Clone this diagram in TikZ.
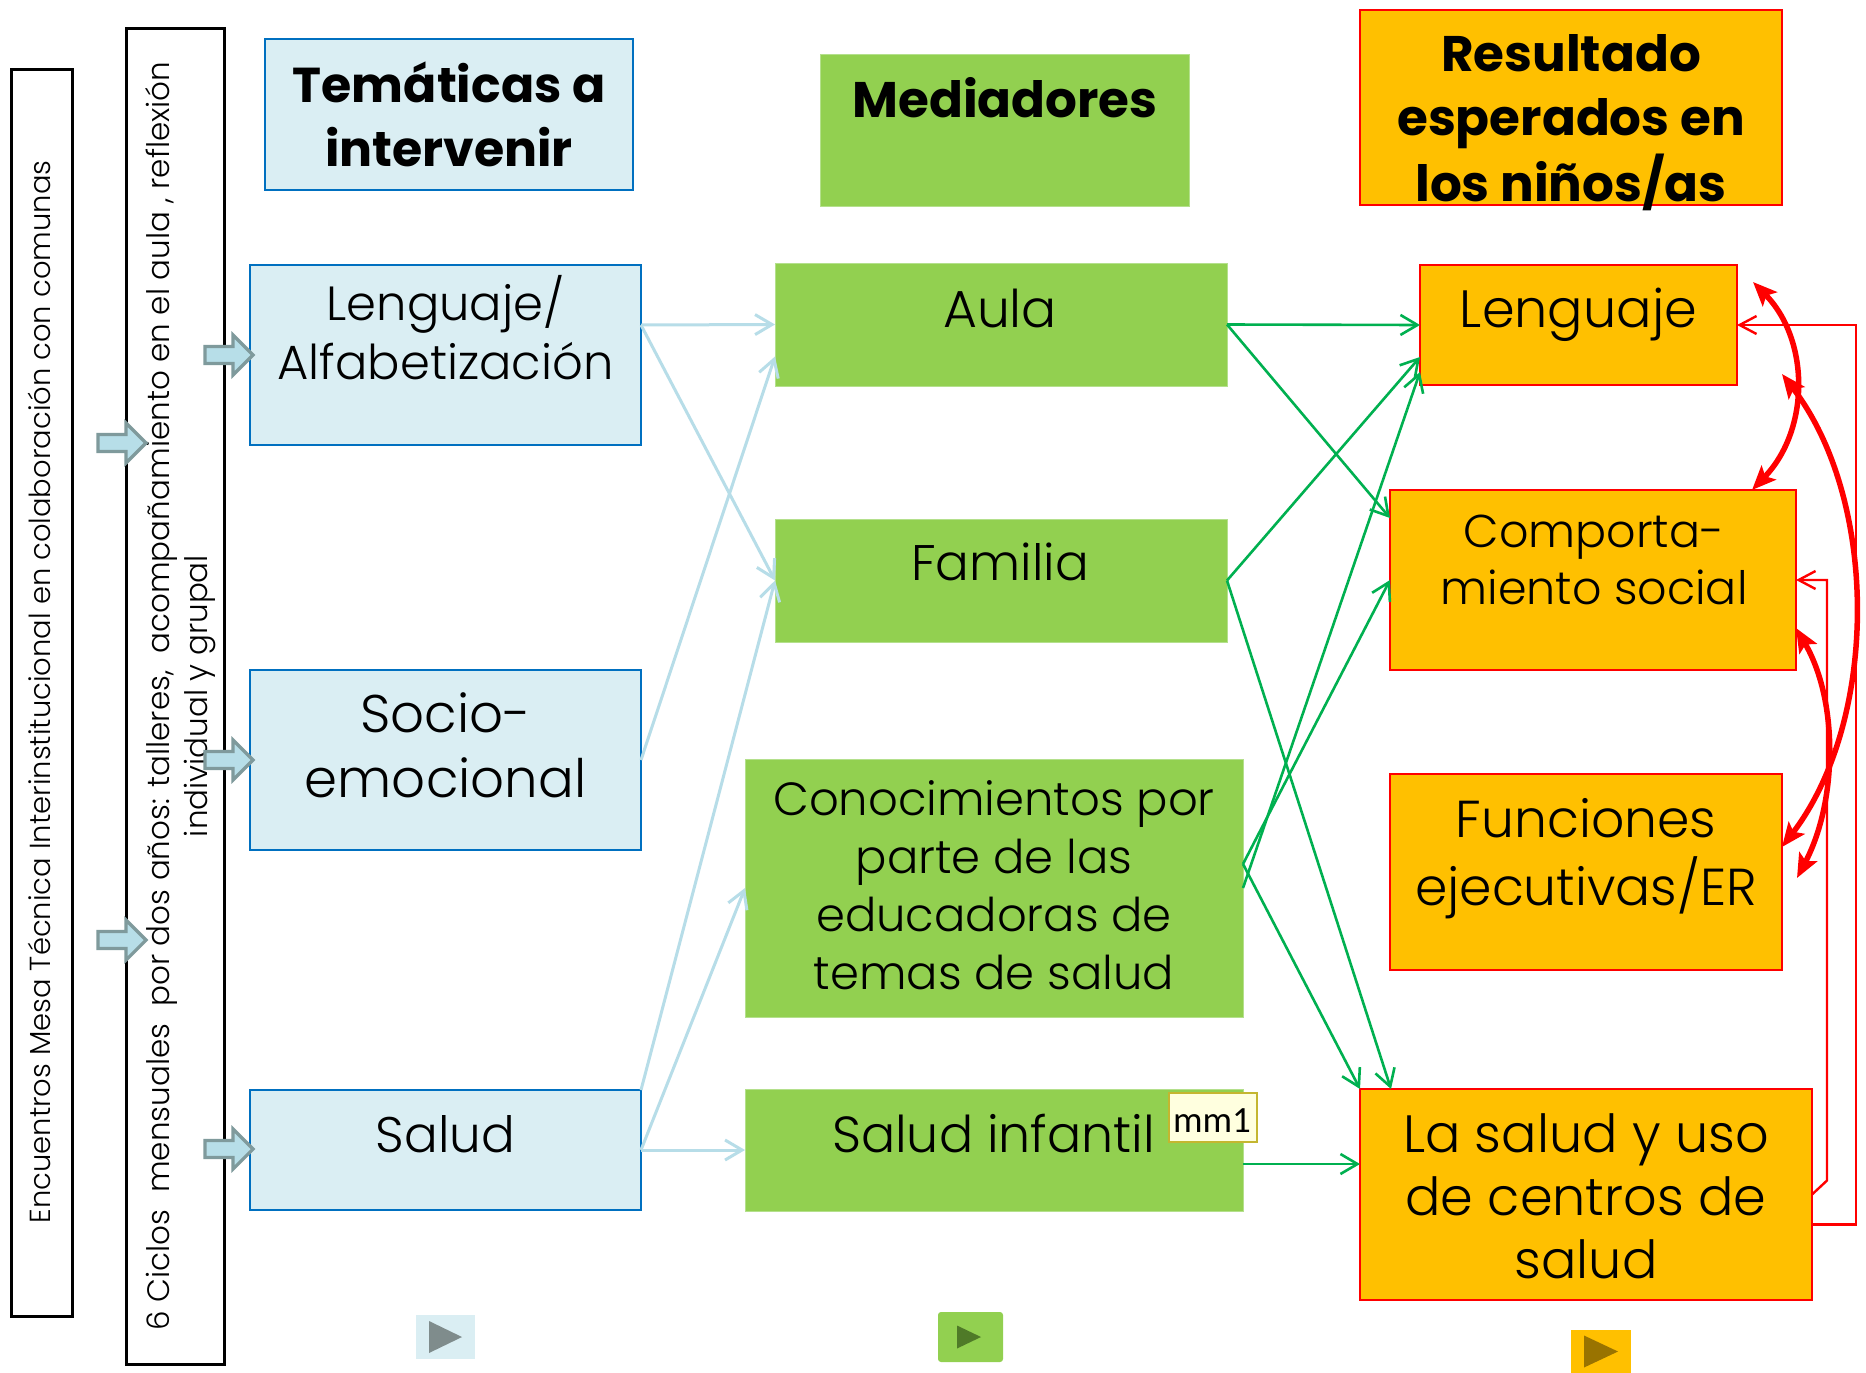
\documentclass[tikz,border=0pt]{standalone}
\usepackage{fontspec}
\setmainfont{Poppins}[UprightFont={* Light}, BoldFont={* Bold}]
\newfontfamily\calib{Carlito}
\usetikzlibrary{arrows.meta,calc}
\definecolor{paleblue}{HTML}{DAEEF3}
\definecolor{bordblue}{HTML}{0070C0}
\definecolor{linkblue}{HTML}{B7DDE8}
\definecolor{boxgreen}{HTML}{92D050}
\definecolor{gborder}{HTML}{B4E08C}
\definecolor{linkgreen}{HTML}{00B050}
\definecolor{orangeY}{HTML}{FFC000}
\definecolor{arrfill}{HTML}{B7DEE8}
\definecolor{arrgray}{HTML}{7F9A9C}
\definecolor{mmfill}{HTML}{FFFFDF}
\definecolor{mmbord}{HTML}{C4B630}
\definecolor{tri1}{HTML}{7F8C8C}
\definecolor{tri2}{HTML}{4F7A28}
\definecolor{tri3}{HTML}{997300}
\newcommand{\mlines}[1]{\begin{tabular}[t]{@{}c@{}}#1\end{tabular}}
\begin{document}
\begin{tikzpicture}[x=1pt,y=-1pt,
  every node/.style={inner sep=0pt, outer sep=0pt},
  tbox/.style={draw=bordblue, line width=2.5pt, fill=paleblue},
  gbox/.style={draw=gborder, line width=1pt, fill=boxgreen},
  obox/.style={draw=red, line width=2.5pt, fill=orangeY},
  frame/.style={draw=black, line width=3pt},
  txt/.style 2 args={anchor=base, text=black, font=\fontsize{#1}{#2}\selectfont},
  ttl/.style 2 args={anchor=base, text=black, font=\bfseries\fontsize{#1}{#2}\selectfont},
  lb/.style={draw=linkblue, line width=3pt, -{Straight Barb[length=17pt,width=20pt]}},
  lg/.style={draw=linkgreen, line width=2.6pt, -{Straight Barb[length=17pt,width=20pt]}},
  lr/.style={draw=red, line width=2.4pt, -{Straight Barb[length=17pt,width=18pt]}},
  bigred/.style={draw=red, line width=5.5pt, {Stealth[length=24pt,width=20pt,inset=5pt]}-{Stealth[length=24pt,width=20pt,inset=5pt]}},
  harrow/.style={draw=arrgray, fill=arrfill, line width=3.2pt, line join=miter},
  harr/.pic={\path[harrow] (-48,-8.5) -- (-20,-8.5) -- (-20,-20) -- (0,0) -- (-20,20) -- (-20,8.5) -- (-48,8.5) -- cycle;}
]
\path[fill=white] (0,0) rectangle (1866,1373);
\useasboundingbox (0,0) rectangle (1866,1373);

% left frames
\node[frame, minimum width=61pt, minimum height=1247pt] (mesa) at (41.5,692.5) {};
\node[frame, minimum width=98pt, minimum height=1336pt] (ciclos) at (175,696) {};
\node[rotate=90, anchor=base, font=\fontsize{29}{38}\selectfont] (mesa-t) at (50,692)
  {Encuentros Mesa Técnica Interinstitucional en colaboración con comunas};
\node[rotate=90, anchor=base, font=\fontsize{31}{38}\selectfont] (ciclos-t) at (169,696)
  {\mlines{6 Ciclos\ \ mensuales\ \ por dos años: talleres,\ \ acompañamiento en el aula , reflexión\\individual y grupal}};

% column 1
\node[tbox, minimum width=368pt, minimum height=151pt] (tem) at (449,114.5) {};
\node[ttl={49}{64}] (tem-t) at (449,102) {\mlines{Temáticas a\\intervenir}};
\node[tbox, minimum width=391pt, minimum height=180pt] (lengalf) at (445.5,355) {};
\node[txt={48}{59}] (lengalf-t) at (445.5,320) {\mlines{Lenguaje/\\Alfabetización}};
\node[tbox, minimum width=391pt, minimum height=180pt] (socio) at (445.5,760) {};
\node[txt={53}{65}] (socio-t) at (445.5,732) {\mlines{Socio-\\emocional}};
\node[tbox, minimum width=391pt, minimum height=120pt] (salud) at (445.5,1150) {};
\node[txt={50}{60}] (salud-t) at (445.5,1152) {Salud};

% column 2
\node[gbox, minimum width=369pt, minimum height=152pt] (med) at (1004.5,130) {};
\node[ttl={50}{64}] (med-t) at (1005,117) {Mediadores};
\node[gbox, minimum width=452pt, minimum height=123pt] (aula) at (1001,324.5) {};
\node[txt={52}{60}] (aula-t) at (1000,327) {Aula};
\node[gbox, minimum width=452pt, minimum height=123pt] (familia) at (1001,580.5) {};
\node[txt={50}{60}] (familia-t) at (1000,580) {Familia};
\node[gbox, minimum width=498pt, minimum height=258pt] (conoc) at (994,888) {};
\node[txt={46.5}{58}] (conoc-t) at (994,815) {\mlines{Conocimientos por\\parte de las\\educadoras de\\temas de salud}};
\node[gbox, minimum width=498pt, minimum height=122pt] (saludinf) at (994,1150) {};
\node[txt={50.7}{60}] (saludinf-t) at (993.5,1152) {Salud infantil};
\node[draw=mmbord, line width=1.5pt, fill=mmfill, minimum width=88pt, minimum height=49pt] (mm1) at (1213,1117.5) {};
\node[anchor=base, font=\calib\fontsize{37}{40}\selectfont] (mm1-t) at (1212,1132) {mm1};

% column 3
\node[obox, minimum width=422pt, minimum height=195pt] (res) at (1571,107.5) {};
\node[ttl={50}{64}] (res-t) at (1571,71) {\mlines{Resultado\\esperados en\\los niños/as}};
\node[obox, minimum width=317pt, minimum height=120pt] (lenguaje) at (1578.5,325) {};
\node[txt={52.5}{60}] (lenguaje-t) at (1578.5,327) {Lenguaje};
\node[obox, minimum width=406pt, minimum height=180pt] (comport) at (1593,580) {};
\node[txt={46}{57}] (comport-t) at (1594,547) {\mlines{Comporta-\\miento social}};
\node[obox, minimum width=392pt, minimum height=196pt] (funciones) at (1586,872) {};
\node[txt={52}{64}] (funciones-t) at (1586,837) {\mlines{Funciones\\ejecutivas/ER}};
\node[obox, minimum width=452pt, minimum height=211pt] (lasalud) at (1586,1194.5) {};
\node[txt={52.5}{63}] (lasalud-t) at (1586,1152) {\mlines{La salud y uso\\de centros de\\salud}};

% hollow arrows
\pic at (253,355) {harr};
\pic at (146,443) {harr};
\pic at (253,760) {harr};
\pic at (146,940) {harr};
\pic at (253,1149) {harr};

% light blue connectors
\draw[lb] ([yshift=30pt]lengalf.east) -- (aula.west);
\draw[lb] ([yshift=30pt]lengalf.east) -- (familia.west);
\draw[lb] (socio.east) -- ([yshift=-32pt]aula.west);
\draw[lb] (salud.north east) -- (familia.west);
\draw[lb] (salud.east) -- (conoc.west);
\draw[lb] (salud.east) -- (saludinf.west);

% green connectors
\coordinate (si-out) at ([yshift=-14pt]saludinf.east);
\coordinate (co-up) at ([yshift=24pt]conoc.east);
\draw[lg] (aula.east) -- (lenguaje.west);
\draw[lg] (aula.east) -- ([yshift=62pt]comport.west);
\draw[lg] (familia.east) -- ([yshift=-32pt]lenguaje.west);
\draw[lg] (familia.east) -- ([xshift=31pt]lasalud.north west);
\draw[lg] (conoc.east) -- ([yshift=-47pt]lenguaje.west);
\draw[lg] (co-up) -- (comport.west);
\draw[lg] (co-up) -- (lasalud.north west);
\draw[lg] (si-out) -- (si-out -| lasalud.west);

% red thin connectors
\coordinate (ls-a) at ([yshift=-30pt]lasalud.east);
\draw[lr] (ls-a) -- ++(44,0) |- (lenguaje.east);
\draw[lr] (lasalud.east) -- ++(15,-14) |- (comport.east);

% red thick double arrows
\draw[bigred] ([shift={(16pt,-17pt)}]lenguaje.north east) .. controls (1810,340) and (1810,430) .. ([xshift=-44pt]comport.north east);
\draw[bigred] ([shift={(45pt,11pt)}]lenguaje.south east) .. controls (1879,500) and (1879,720) .. ([yshift=25pt]funciones.east);
\draw[bigred] ([yshift=42pt]comport.south east) .. controls (1838,700) and (1838,800) .. ([shift={(15pt,-6pt)}]funciones.east);

% play buttons
\node[fill=paleblue, minimum width=59pt, minimum height=44pt] (play1) at (445.5,1337) {};
\fill[tri1] ([shift={(-16.5pt,16pt)}]play1.center) -- ([shift={(-16.5pt,-16pt)}]play1.center) -- ([shift={(16.5pt,0pt)}]play1.center) -- cycle;
\node[fill=boxgreen, rounded corners=3pt, minimum width=65pt, minimum height=50pt] (play2) at (970.5,1337) {};
\fill[tri2] ([shift={(-13.5pt,11.5pt)}]play2.center) -- ([shift={(-13.5pt,-11.5pt)}]play2.center) -- ([shift={(10.5pt,0pt)}]play2.center) -- cycle;
\node[fill=orangeY, minimum width=60pt, minimum height=43pt] (play3) at (1601,1351.5) {};
\fill[tri3] ([shift={(-17pt,16pt)}]play3.center) -- ([shift={(-17pt,-16pt)}]play3.center) -- ([shift={(17pt,0pt)}]play3.center) -- cycle;
\end{tikzpicture}
\end{document}
